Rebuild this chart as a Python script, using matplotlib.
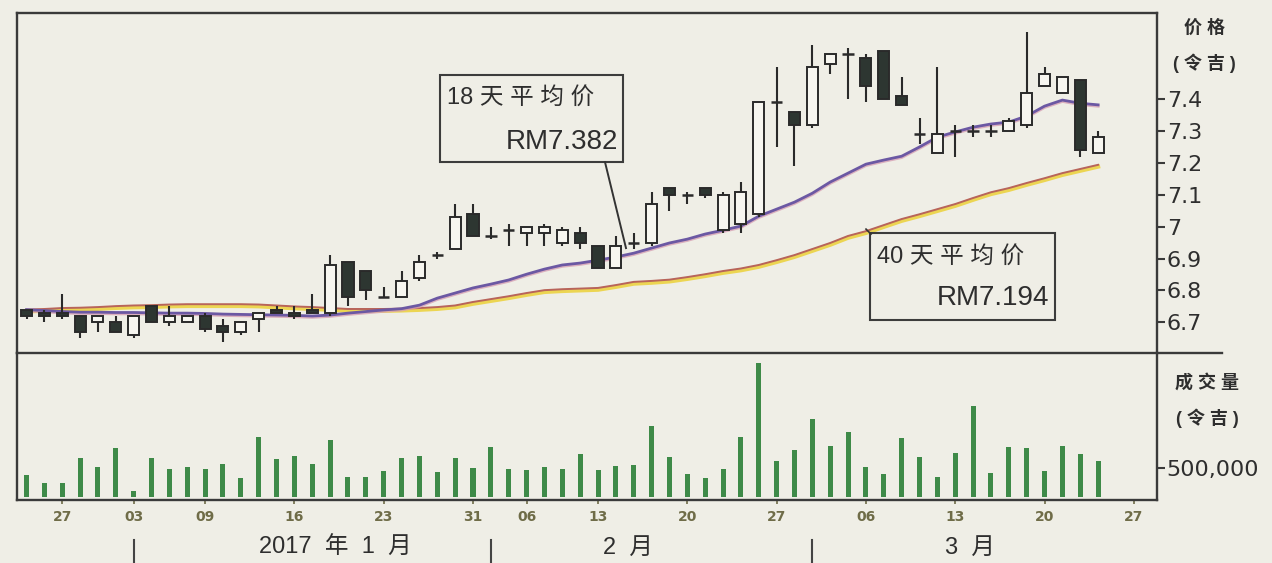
import matplotlib
matplotlib.use('Agg')
import matplotlib.pyplot as plt
import matplotlib.patheffects as pe
from matplotlib.patches import Rectangle
from matplotlib.lines import Line2D
from matplotlib.transforms import blended_transform_factory

plt.rcParams['font.family'] = ['Liberation Sans', 'Noto Sans CJK SC', 'DejaVu Sans']

# ---------------- data ----------------
dates = ['2016-12-22', '2016-12-23', '2016-12-27', '2016-12-28', '2016-12-29', '2016-12-30',
         '2017-01-03', '2017-01-04', '2017-01-05', '2017-01-06', '2017-01-09', '2017-01-10',
         '2017-01-11', '2017-01-12', '2017-01-13', '2017-01-16', '2017-01-17', '2017-01-18',
         '2017-01-19', '2017-01-20', '2017-01-23', '2017-01-24', '2017-01-25', '2017-01-26',
         '2017-01-27', '2017-01-31', '2017-02-02', '2017-02-03', '2017-02-06', '2017-02-07',
         '2017-02-08', '2017-02-10', '2017-02-13', '2017-02-14', '2017-02-15', '2017-02-16',
         '2017-02-17', '2017-02-20', '2017-02-21', '2017-02-22', '2017-02-23', '2017-02-24',
         '2017-02-27', '2017-02-28', '2017-03-01', '2017-03-02', '2017-03-03', '2017-03-06',
         '2017-03-07', '2017-03-08', '2017-03-09', '2017-03-10', '2017-03-13', '2017-03-14',
         '2017-03-15', '2017-03-16', '2017-03-17', '2017-03-20', '2017-03-21', '2017-03-22',
         '2017-03-23']

opens = [6.74, 6.73, 6.73, 6.72, 6.70, 6.70, 6.66, 6.75, 6.70, 6.70,
         6.72, 6.69, 6.67, 6.71, 6.74, 6.73, 6.74, 6.73, 6.89, 6.86,
         6.78, 6.78, 6.84, 6.91, 6.93, 7.04, 6.97, 6.99, 6.98, 6.98,
         6.95, 6.98, 6.94, 6.87, 6.95, 6.95, 7.12, 7.10, 7.12, 6.99,
         7.01, 7.04, 7.39, 7.36, 7.32, 7.51, 7.54, 7.53, 7.55, 7.41,
         7.29, 7.23, 7.30, 7.30, 7.30, 7.30, 7.32, 7.44, 7.42, 7.46,
         7.23]
highs = [6.74, 6.74, 6.79, 6.72, 6.72, 6.72, 6.72, 6.75, 6.75, 6.72,
         6.73, 6.71, 6.70, 6.73, 6.75, 6.75, 6.79, 6.91, 6.89, 6.86,
         6.81, 6.86, 6.91, 6.92, 7.07, 7.07, 7.00, 7.01, 7.00, 7.01,
         7.00, 7.00, 6.94, 6.97, 6.98, 7.11, 7.12, 7.11, 7.12, 7.11,
         7.14, 7.39, 7.50, 7.36, 7.57, 7.54, 7.56, 7.54, 7.55, 7.47,
         7.34, 7.50, 7.32, 7.32, 7.32, 7.34, 7.61, 7.50, 7.47, 7.46,
         7.30]
lows = [6.71, 6.70, 6.71, 6.65, 6.67, 6.67, 6.65, 6.70, 6.69, 6.70,
        6.67, 6.64, 6.66, 6.67, 6.73, 6.71, 6.73, 6.72, 6.75, 6.77,
        6.78, 6.78, 6.83, 6.90, 6.93, 6.97, 6.96, 6.94, 6.94, 6.94,
        6.94, 6.93, 6.87, 6.87, 6.93, 6.94, 7.05, 7.07, 7.09, 6.98,
        6.98, 7.03, 7.25, 7.19, 7.31, 7.48, 7.40, 7.39, 7.40, 7.38,
        7.26, 7.23, 7.22, 7.28, 7.28, 7.30, 7.31, 7.44, 7.42, 7.22,
        7.23]
closes = [6.72, 6.72, 6.72, 6.67, 6.72, 6.67, 6.72, 6.70, 6.72, 6.72,
          6.68, 6.67, 6.70, 6.73, 6.73, 6.72, 6.73, 6.88, 6.78, 6.80,
          6.78, 6.83, 6.89, 6.91, 7.03, 6.97, 6.97, 6.99, 7.00, 7.00,
          6.99, 6.95, 6.87, 6.94, 6.95, 7.07, 7.10, 7.10, 7.10, 7.10,
          7.11, 7.39, 7.39, 7.32, 7.50, 7.54, 7.54, 7.44, 7.40, 7.38,
          7.29, 7.29, 7.30, 7.30, 7.30, 7.33, 7.42, 7.48, 7.47, 7.24,
          7.28]
volumes = [379000, 247000, 236000, 667000, 512000, 850000, 110000, 667000, 477000, 523000,
           483000, 569000, 322000, 1040000, 655000, 707000, 569000, 983000, 350000, 339000,
           454000, 667000, 707000, 437000, 678000, 494000, 868000, 477000, 466000, 512000,
           477000, 741000, 466000, 540000, 552000, 1224000, 695000, 391000, 333000, 483000,
           1040000, 2305000, 626000, 804000, 1340000, 879000, 1126000, 523000, 391000, 1012000,
           695000, 339000, 753000, 1569000, 420000, 868000, 850000, 454000, 879000, 741000,
           621000]
ma18 = [6.740, 6.737, 6.734, 6.732, 6.732, 6.731, 6.731, 6.730, 6.729, 6.729,
        6.728, 6.726, 6.725, 6.724, 6.723, 6.722, 6.720, 6.723, 6.729, 6.734,
        6.739, 6.743, 6.754, 6.776, 6.792, 6.808, 6.820, 6.833, 6.851, 6.867,
        6.880, 6.886, 6.895, 6.905, 6.917, 6.933, 6.949, 6.961, 6.977, 6.989,
        7.002, 7.033, 7.055, 7.077, 7.105, 7.140, 7.168, 7.196, 7.209, 7.221,
        7.250, 7.281, 7.297, 7.312, 7.322, 7.328, 7.347, 7.378, 7.397, 7.387,
        7.382]
ma40 = [6.740, 6.742, 6.745, 6.746, 6.748, 6.751, 6.753, 6.754, 6.756, 6.757,
        6.757, 6.757, 6.757, 6.756, 6.753, 6.750, 6.748, 6.745, 6.742, 6.742,
        6.742, 6.743, 6.745, 6.748, 6.753, 6.764, 6.773, 6.782, 6.792, 6.801,
        6.804, 6.806, 6.808, 6.817, 6.827, 6.830, 6.834, 6.842, 6.851, 6.861,
        6.869, 6.880, 6.895, 6.911, 6.930, 6.949, 6.971, 6.986, 7.005, 7.024,
        7.039, 7.055, 7.071, 7.090, 7.108, 7.121, 7.137, 7.152, 7.168, 7.181,
        7.194]

tick_idx = [2, 6, 10, 15, 20, 25, 28, 32, 37, 42, 47, 52, 57, 62]
tick_labels = ['27', '03', '09', '16', '23', '31', '06', '13', '20', '27', '06', '13', '20', '27']
month_sep_idx = [6, 26, 44]
month_label_idx = [17.3, 33.7, 52.8]
month_labels = ['2017  年  1  月', '2  月', '3  月']
price_ticks = [6.7, 6.8, 6.9, 7.0, 7.1, 7.2, 7.3, 7.4]
price_tick_labels = ['6.7', '6.8', '6.9', '7', '7.1', '7.2', '7.3', '7.4']
vol_ticks = [500000]
vol_tick_labels = ['500,000']
ma18_label = ['18 天 平 均 价', 'RM7.382']
ma40_label = ['40 天 平 均 价', 'RM7.194']

# ---------------- style ----------------
BG = '#efeee6'
EDGE = '#2a2a2a'
UP_FACE = '#f7f6f0'
DN_FACE = '#2d3631'
FRAME = '#3a3a3a'
TXT = '#2e2e2e'
DATE_C = '#6f6c48'

W, H = 1272, 563
fig = plt.figure(figsize=(W / 100, H / 100), dpi=100, facecolor=BG)

def fx(px):
    return px / W

def fy(py):
    return 1 - py / H

L, R, T, MID, B = 17, 1157, 13, 353, 500
axp = fig.add_axes([fx(L), fy(MID), fx(R) - fx(L), fy(T) - fy(MID)], facecolor=BG)
axv = fig.add_axes([fx(L), fy(B), fx(R) - fx(L), fy(MID) - fy(B)], facecolor=BG, sharex=axp)

n = len(dates)
xs = list(range(n))

# candles
bw = 0.62
for i in xs:
    o, h, l, c = opens[i], highs[i], lows[i], closes[i]
    axp.vlines(i, l, h, color=EDGE, lw=1.5, zorder=3)
    if o == c:
        axp.hlines(o, i - 0.32, i + 0.32, color=EDGE, lw=1.8, zorder=4)
    else:
        face = UP_FACE if c > o else DN_FACE
        axp.add_patch(Rectangle((i - bw / 2, min(o, c)), bw, abs(c - o),
                                facecolor=face, edgecolor=EDGE, lw=1.4, zorder=4))

# moving averages
axp.plot(xs, ma40, color='#b8645a', lw=1.4, zorder=2,
         path_effects=[pe.SimpleLineShadow(offset=(0, -1.3), shadow_color='#ecd44a', alpha=0.95, rho=1.0, linewidth=3.0),
                       pe.Normal()])
axp.plot(xs, ma18, color='#6b58a3', lw=2.0, zorder=2,
         path_effects=[pe.SimpleLineShadow(offset=(0, -0.9), shadow_color='#d6a0b4', alpha=0.8, rho=1.0, linewidth=2.2),
                       pe.Normal()])

xlo = (L - 26.5) / 17.86
xhi = (R - 26.5) / 17.86
axp.set_xlim(xlo, xhi)
axp.set_ylim(6.604, 7.670)

def p_of(py):
    return 7.4 - (py - 99) / 319.0

def i_of(px):
    return (px - 26.5) / 17.86

# annotation boxes
box_kw = dict(facecolor=BG, edgecolor='#3c3c3c', lw=1.5, zorder=6)
axp.add_patch(Rectangle((i_of(440), p_of(162)), i_of(623) - i_of(440), p_of(75) - p_of(162), **box_kw))
axp.add_line(Line2D([i_of(605), i_of(626)], [p_of(162), p_of(248)], color='#333333', lw=1.4, zorder=6))
axp.text(i_of(447), p_of(98), ma18_label[0], fontsize=17, color=TXT, ha='left', va='center', zorder=7)
axp.text(i_of(618), p_of(142), ma18_label[1], fontsize=20, color=TXT, ha='right', va='center', zorder=7)

axp.add_patch(Rectangle((i_of(870), p_of(320)), i_of(1055) - i_of(870), p_of(233) - p_of(320), **box_kw))
axp.add_line(Line2D([i_of(866), i_of(871)], [p_of(229), p_of(234)], color='#333333', lw=1.2, zorder=6))
axp.text(i_of(877), p_of(257), ma40_label[0], fontsize=17, color=TXT, ha='left', va='center', zorder=7)
axp.text(i_of(1049), p_of(298), ma40_label[1], fontsize=20, color=TXT, ha='right', va='center', zorder=7)

# price axis
axp.yaxis.tick_right()
axp.set_yticks(price_ticks)
axp.set_yticklabels(price_tick_labels, family=['DejaVu Sans'], fontsize=16, color=TXT)
axp.tick_params(axis='y', direction='out', length=6, width=1.5, color=FRAME, pad=1)
axp.tick_params(axis='x', which='both', bottom=False, labelbottom=False)
for s in ['top', 'left', 'right']:
    axp.spines[s].set_color(FRAME)
    axp.spines[s].set_linewidth(1.7)
axp.spines['bottom'].set_visible(False)

# volume
axv.bar(xs, volumes, width=0.28, color='#3e8a48', zorder=3)
axv.set_ylim(-52000, 2483000)
axv.yaxis.tick_right()
axv.set_yticks(vol_ticks)
axv.set_yticklabels(vol_tick_labels, family=['DejaVu Sans'], fontsize=16, color=TXT)
axv.tick_params(axis='y', direction='out', length=6, width=1.5, color=FRAME, pad=1)
axv.set_xticks(tick_idx)
axv.set_xticklabels(tick_labels, family=['DejaVu Sans'], fontsize=10, color=DATE_C, fontweight='bold')
axv.tick_params(axis='x', direction='out', length=3, width=1.2, color=DATE_C, pad=4)
for s in ['bottom', 'left', 'right']:
    axv.spines[s].set_color(FRAME)
    axv.spines[s].set_linewidth(1.7)
axv.spines['top'].set_visible(False)

# divider line extending past the right border
fig.add_artist(Line2D([fx(L), fx(1222)], [fy(MID), fy(MID)], color=FRAME, lw=1.7))

# right-hand axis titles
fig.text(fx(1204), fy(28), '价 格', fontsize=13, fontweight='bold', color=TXT, ha='center', va='center')
fig.text(fx(1204), fy(63), '( 令 吉 )', fontsize=13, fontweight='bold', color=TXT, ha='center', va='center')
fig.text(fx(1207), fy(383), '成 交 量', fontsize=13, fontweight='bold', color=TXT, ha='center', va='center')
fig.text(fx(1207), fy(418), '( 令 吉 )', fontsize=13, fontweight='bold', color=TXT, ha='center', va='center')

# month labels and separators
trans = blended_transform_factory(axv.transData, fig.transFigure)
for mi in month_sep_idx:
    fig.add_artist(Line2D([mi, mi], [fy(540), fy(562)], transform=trans, color='#444444', lw=1.5))
for mi, lab in zip(month_label_idx, month_labels):
    fig.text(mi, fy(548), lab, transform=trans, fontsize=17, color=TXT, ha='center', va='center')

fig.savefig('out.png', dpi=100, facecolor=BG)
